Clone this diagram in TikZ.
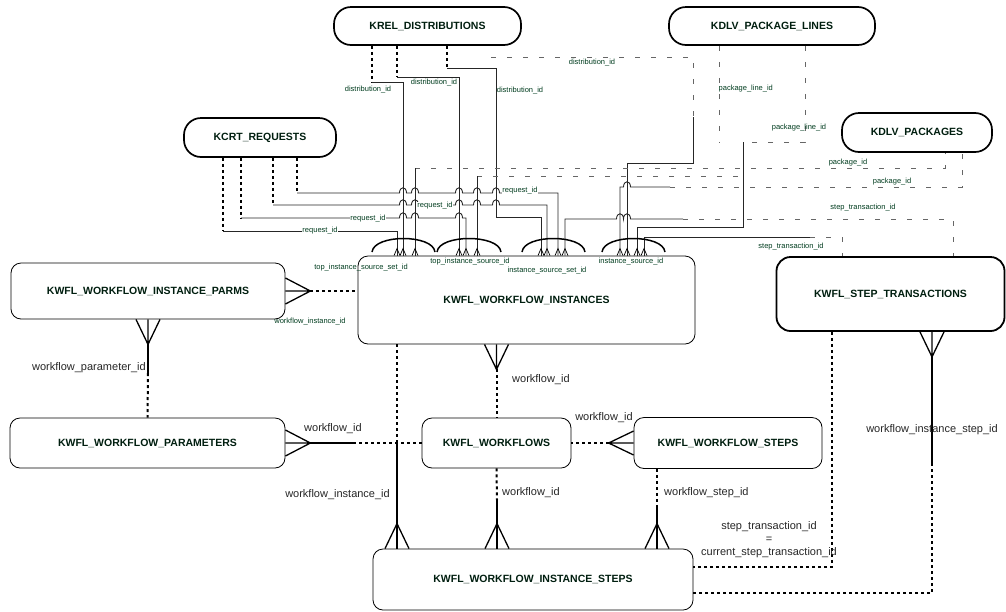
\documentclass[tikz,border=0pt]{standalone}
\usepackage{fontspec}
\setmainfont{Liberation Sans}
\definecolor{titlec}{RGB}{0,30,15}
\definecolor{smlc}{RGB}{0,60,30}
\newcommand\ttlfont{\fontsize{10.5}{12}\selectfont\bfseries}
\newcommand\lblfont{\fontsize{11}{13}\selectfont}
\newcommand\smlfont{\fontsize{7.5}{9}\selectfont}
\tikzset{
  crowS/.pic={\draw[line width=1.3pt] (-12,0) -- (0,25) -- (12,0) (0,0) -- (0,25);},
  crowN/.pic={\draw[line width=1.3pt] (-12,0) -- (0,-25) -- (12,0) (0,0) -- (0,-25);},
  crowE/.pic={\draw[line width=1.3pt] (0,-13) -- (25,0) -- (0,13) (0,0) -- (25,0);},
  crowW/.pic={\draw[line width=1.3pt] (0,-12) -- (-25,0) -- (0,12) (0,0) -- (-25,0);},
  smallcrow/.pic={\draw[line width=0.7pt] (-3,0) -- (0,-7) -- (3,0);},
}
\begin{document}
\begin{tikzpicture}[x=1pt,y=-1pt,
  ent/.style={draw, line width=0.8pt, rounded corners=10pt, font=\ttlfont, text=titlec, inner sep=0pt},
  topent/.style={draw, line width=1.7pt, rounded corners=17pt, font=\ttlfont, text=titlec, inner sep=0pt},
  sol/.style={line width=1.3pt},
  dts/.style={line width=2pt, dash pattern=on 3pt off 3pt},
  thn/.style={line width=0.9pt, black!85},
  gst/.style={line width=0.6pt, black!60, dash pattern=on 5pt off 11pt},
  arcs/.style={line width=1.5pt},
  lbl/.style={font=\lblfont, text=black!85, inner sep=1pt},
  sml/.style={font=\smlfont, text=smlc, inner sep=0.5pt},
]
\useasboundingbox (0,0) rectangle (1006,611);

% ---------- entities ----------
\node[topent, minimum width=187pt, minimum height=38pt] (krel) at (427.5,26) {KREL\_DISTRIBUTIONS};
\node[topent, minimum width=206pt, minimum height=38pt] (kdpl) at (772,26) {KDLV\_PACKAGE\_LINES};
\node[topent, minimum width=152pt, minimum height=39pt] (kcrt) at (260,137.5) {KCRT\_REQUESTS};
\node[topent, minimum width=150pt, minimum height=39pt] (kdp) at (917,132.5) {KDLV\_PACKAGES};
\node[ent, minimum width=274pt, minimum height=56pt] (parms) at (148,291) {KWFL\_WORKFLOW\_INSTANCE\_PARMS};
\node[ent, minimum width=337pt, minimum height=88pt] (inst) at (526.5,300) {KWFL\_WORKFLOW\_INSTANCES};
\node[ent, line width=1.8pt, rounded corners=14pt, minimum width=228pt, minimum height=74pt] (steptr) at (890.5,294) {KWFL\_STEP\_TRANSACTIONS};
\node[ent, minimum width=275pt, minimum height=50pt] (params) at (147.5,443) {KWFL\_WORKFLOW\_PARAMETERS};
\node[ent, minimum width=149pt, minimum height=50pt] (wf) at (496.5,443) {KWFL\_WORKFLOWS};
\node[ent, minimum width=188pt, minimum height=51pt] (wfs) at (728,443) {KWFL\_WORKFLOW\_STEPS};
\node[ent, minimum width=320pt, minimum height=61pt] (wis) at (533,579.5) {KWFL\_WORKFLOW\_INSTANCE\_STEPS};

% ---------- main relationships ----------
\pic at (parms.east) {crowE};
\draw[dts] ([xshift=25pt]parms.east) -- (inst.west |- parms.east);

\pic at (parms.south) {crowS};
\draw[sol] ([yshift=-25pt]parms.south) -- (148,373);
\draw[dts] (148,373) -- (params.north);

\pic at (params.east) {crowE};
\draw[sol] ([xshift=25pt]params.east) -- (353,443);
\draw[dts] (353,443) -- (wf.west);

\pic at (wf.north |- inst.south) {crowS};
\draw[dts] ([yshift=-25pt]wf.north |- inst.south) -- (wf.north);

\pic at (wfs.west) {crowW};
\draw[dts] ([xshift=-25pt]wfs.west) -- (wf.east);

\draw[dts] (397,0 |- inst.south) -- (397,443);
\draw[sol] (397,443) -- (397,0 |- wis.north);
\pic at (397,0 |- wis.north) {crowN};

\draw[dts] (wf.south) -- (497,500);
\draw[sol] (497,500) -- (497,0 |- wis.north);
\pic at (497,0 |- wis.north) {crowN};

\draw[dts] (657,0 |- wfs.south) -- (657,508);
\draw[sol] (657,508) -- (657,0 |- wis.north);
\pic at (657,0 |- wis.north) {crowN};

\draw[dts] (832,0 |- steptr.south) -- (832,567) -- (wis.east |- 0,567);
\pic at (932,0 |- steptr.south) {crowS};
\draw[sol] (932,356) -- (932,463);
\draw[dts] (932,463) -- (932,593) -- (wis.east |- 0,593);

% ---------- top relationships ----------
% distributions
\draw[dts] (372,0 |- krel.south) -- (372,82);
\draw[thn] (372,82) -- (403,82) -- (403,0 |- inst.north);
\draw[dts] (397,0 |- krel.south) -- (397,77);
\draw[thn] (397,77) -- (459,77) -- (459,0 |- inst.north);
\draw[dts] (447,0 |- krel.south) -- (447,68);
\draw[thn] (447,68) -- (496,68) -- (496,217) -- (541,217) -- (541,0 |- inst.north);
\coordinate (d4start) at (491,57);
\draw[gst] (d4start) -- (693,57) -- (693,117);
\draw[thn] (693,117) -- (693,163) -- (627,163) -- (627,0 |- inst.north);

% requests
\draw[dts] (223,0 |- kcrt.south) -- (223,231);
\draw[thn] (223,231) -- (397,231) -- (397,0 |- inst.north);
\draw[dts] (241,0 |- kcrt.south) -- (241,218);
\draw[thn] (241,218) -- (399.5,218) .. controls (399.5,211) and (406.5,211) .. (406.5,218)
  -- (411.5,218) .. controls (411.5,211) and (418.5,211) .. (418.5,218)
  -- (455.5,218) .. controls (455.5,211) and (462.5,211) .. (462.5,218)
  -- (466,218) -- (466,0 |- inst.north);
\draw[dts] (273,0 |- kcrt.south) -- (273,205);
\draw[thn] (273,205) -- (399.5,205) .. controls (399.5,198) and (406.5,198) .. (406.5,205)
  -- (411.5,205) .. controls (411.5,198) and (418.5,198) .. (418.5,205)
  -- (455.5,205) .. controls (455.5,198) and (462.5,198) .. (462.5,205)
  -- (473.5,205) .. controls (473.5,198) and (480.5,198) .. (480.5,205)
  -- (492.5,205) .. controls (492.5,198) and (499.5,198) .. (499.5,205)
  -- (547,205) -- (547,0 |- inst.north);
\draw[dts] (297,0 |- kcrt.south) -- (297,193);
\draw[thn] (297,193) -- (399.5,193) .. controls (399.5,186) and (406.5,186) .. (406.5,193)
  -- (411.5,193) .. controls (411.5,186) and (418.5,186) .. (418.5,193)
  -- (455.5,193) .. controls (455.5,186) and (462.5,186) .. (462.5,193)
  -- (473.5,193) .. controls (473.5,186) and (480.5,186) .. (480.5,193)
  -- (492.5,193) .. controls (492.5,186) and (499.5,186) .. (499.5,193)
  -- (558,193) -- (558,0 |- inst.north);

% packages
\draw[gst] (415,168) -- (945,168) -- (945,0 |- kdp.south);
\draw[thn] (415,168) -- (415,0 |- inst.north);
\draw[gst] (477,176) -- (745,176);
\draw[thn] (477,176) -- (477,0 |- inst.north);
\draw[thn] (620,0 |- inst.north) -- (620,187) -- (623.5,187) .. controls (623.5,180) and (630.5,180) .. (630.5,187) -- (670,187);
\draw[gst] (670,187) -- (962,187) -- (962,0 |- kdp.south);

% package lines
\draw[gst] (719,0 |- kdpl.south) -- (719,142);
\draw[gst] (805,0 |- kdpl.south) -- (805,142) -- (743,142);
\draw[thn] (743,142) -- (743,227) -- (637,227) -- (637,0 |- inst.north);

% step transactions
\draw[thn] (565,0 |- inst.north) -- (565,219) -- (616.5,219) .. controls (616.5,212) and (623.5,212) .. (623.5,219)
  .. controls (623.5,212) and (630.5,212) .. (630.5,219) -- (683,219);
\draw[gst] (683,219) -- (953,219) -- (953,0 |- steptr.north);
\draw[thn] (644,0 |- inst.north) -- (644,237) -- (810,237);
\draw[gst] (810,237) -- (842,237) -- (842,0 |- steptr.north);

% small crows and group arcs
\foreach \x in {397,403,415,459,466,477,541,547,558,565,620,627,637,644}
  \pic at (\x,0 |- inst.north) {smallcrow};
\draw[arcs] (372,252) .. controls (374,234) and (433,234) .. (435,252);
\draw[arcs] (437,252) .. controls (439,234) and (499,234) .. (501,252);
\draw[arcs] (522,252) .. controls (524,234) and (583,234) .. (585,252);
\draw[arcs] (602,252) .. controls (604,234) and (663,234) .. (665,252);

% ---------- labels ----------
\node[sml] (ld1) at (368,90) {distribution\_id};
\node[sml] (ld2) at (434,83) {distribution\_id};
\node[sml] (ld3) at (520,91) {distribution\_id};
\node[sml] (ld4) at (592,63) {distribution\_id};
\node[sml, anchor=west] (lpl1) at (718,89) {package\_line\_id};
\node[sml] (lpl2) at (799,128) {package\_line\_id};
\node[sml] (lp1) at (848,163) {package\_id};
\node[sml] (lp2) at (892,182) {package\_id};
\node[sml] (lst1) at (863,208) {step\_transaction\_id};
\node[sml] (lst2) at (791,247) {step\_transaction\_id};
\node[sml, fill=white] (lr1) at (320,231) {request\_id};
\node[sml, fill=white] (lr2) at (368,219) {request\_id};
\node[sml, fill=white] (lr3) at (435,206) {request\_id};
\node[sml, fill=white] (lr4) at (520,191) {request\_id};
\node[sml] (lg1) at (361,268) {top\_instance\_source\_set\_id};
\node[sml] (lg2) at (470,262) {top\_instance\_source\_id};
\node[sml] (lg3) at (547,271) {instance\_source\_set\_id};
\node[sml] (lg4) at (631,262) {instance\_source\_id};
\node[sml] (lwii) at (310,322) {workflow\_instance\_id};

\node[lbl, anchor=east] (lwpi) at (147,368) {workflow\_parameter\_id};
\node[lbl, anchor=west] (lwf1) at (303,429) {workflow\_id};
\node[lbl, anchor=west] (lwf2) at (511,380) {workflow\_id};
\node[lbl] (lwf3) at (604,418) {workflow\_id};
\node[lbl, anchor=east] (lwii2) at (391,495) {workflow\_instance\_id};
\node[lbl, anchor=west] (lwf4) at (501,493) {workflow\_id};
\node[lbl, anchor=west] (lwsi) at (663,493) {workflow\_step\_id};
\node[lbl, align=center] (lstc) at (769,540) {step\_transaction\_id\\=\\current\_step\_transaction\_id};
\node[lbl] (lwisi) at (932,430) {workflow\_instance\_step\_id};
\end{tikzpicture}
\end{document}
